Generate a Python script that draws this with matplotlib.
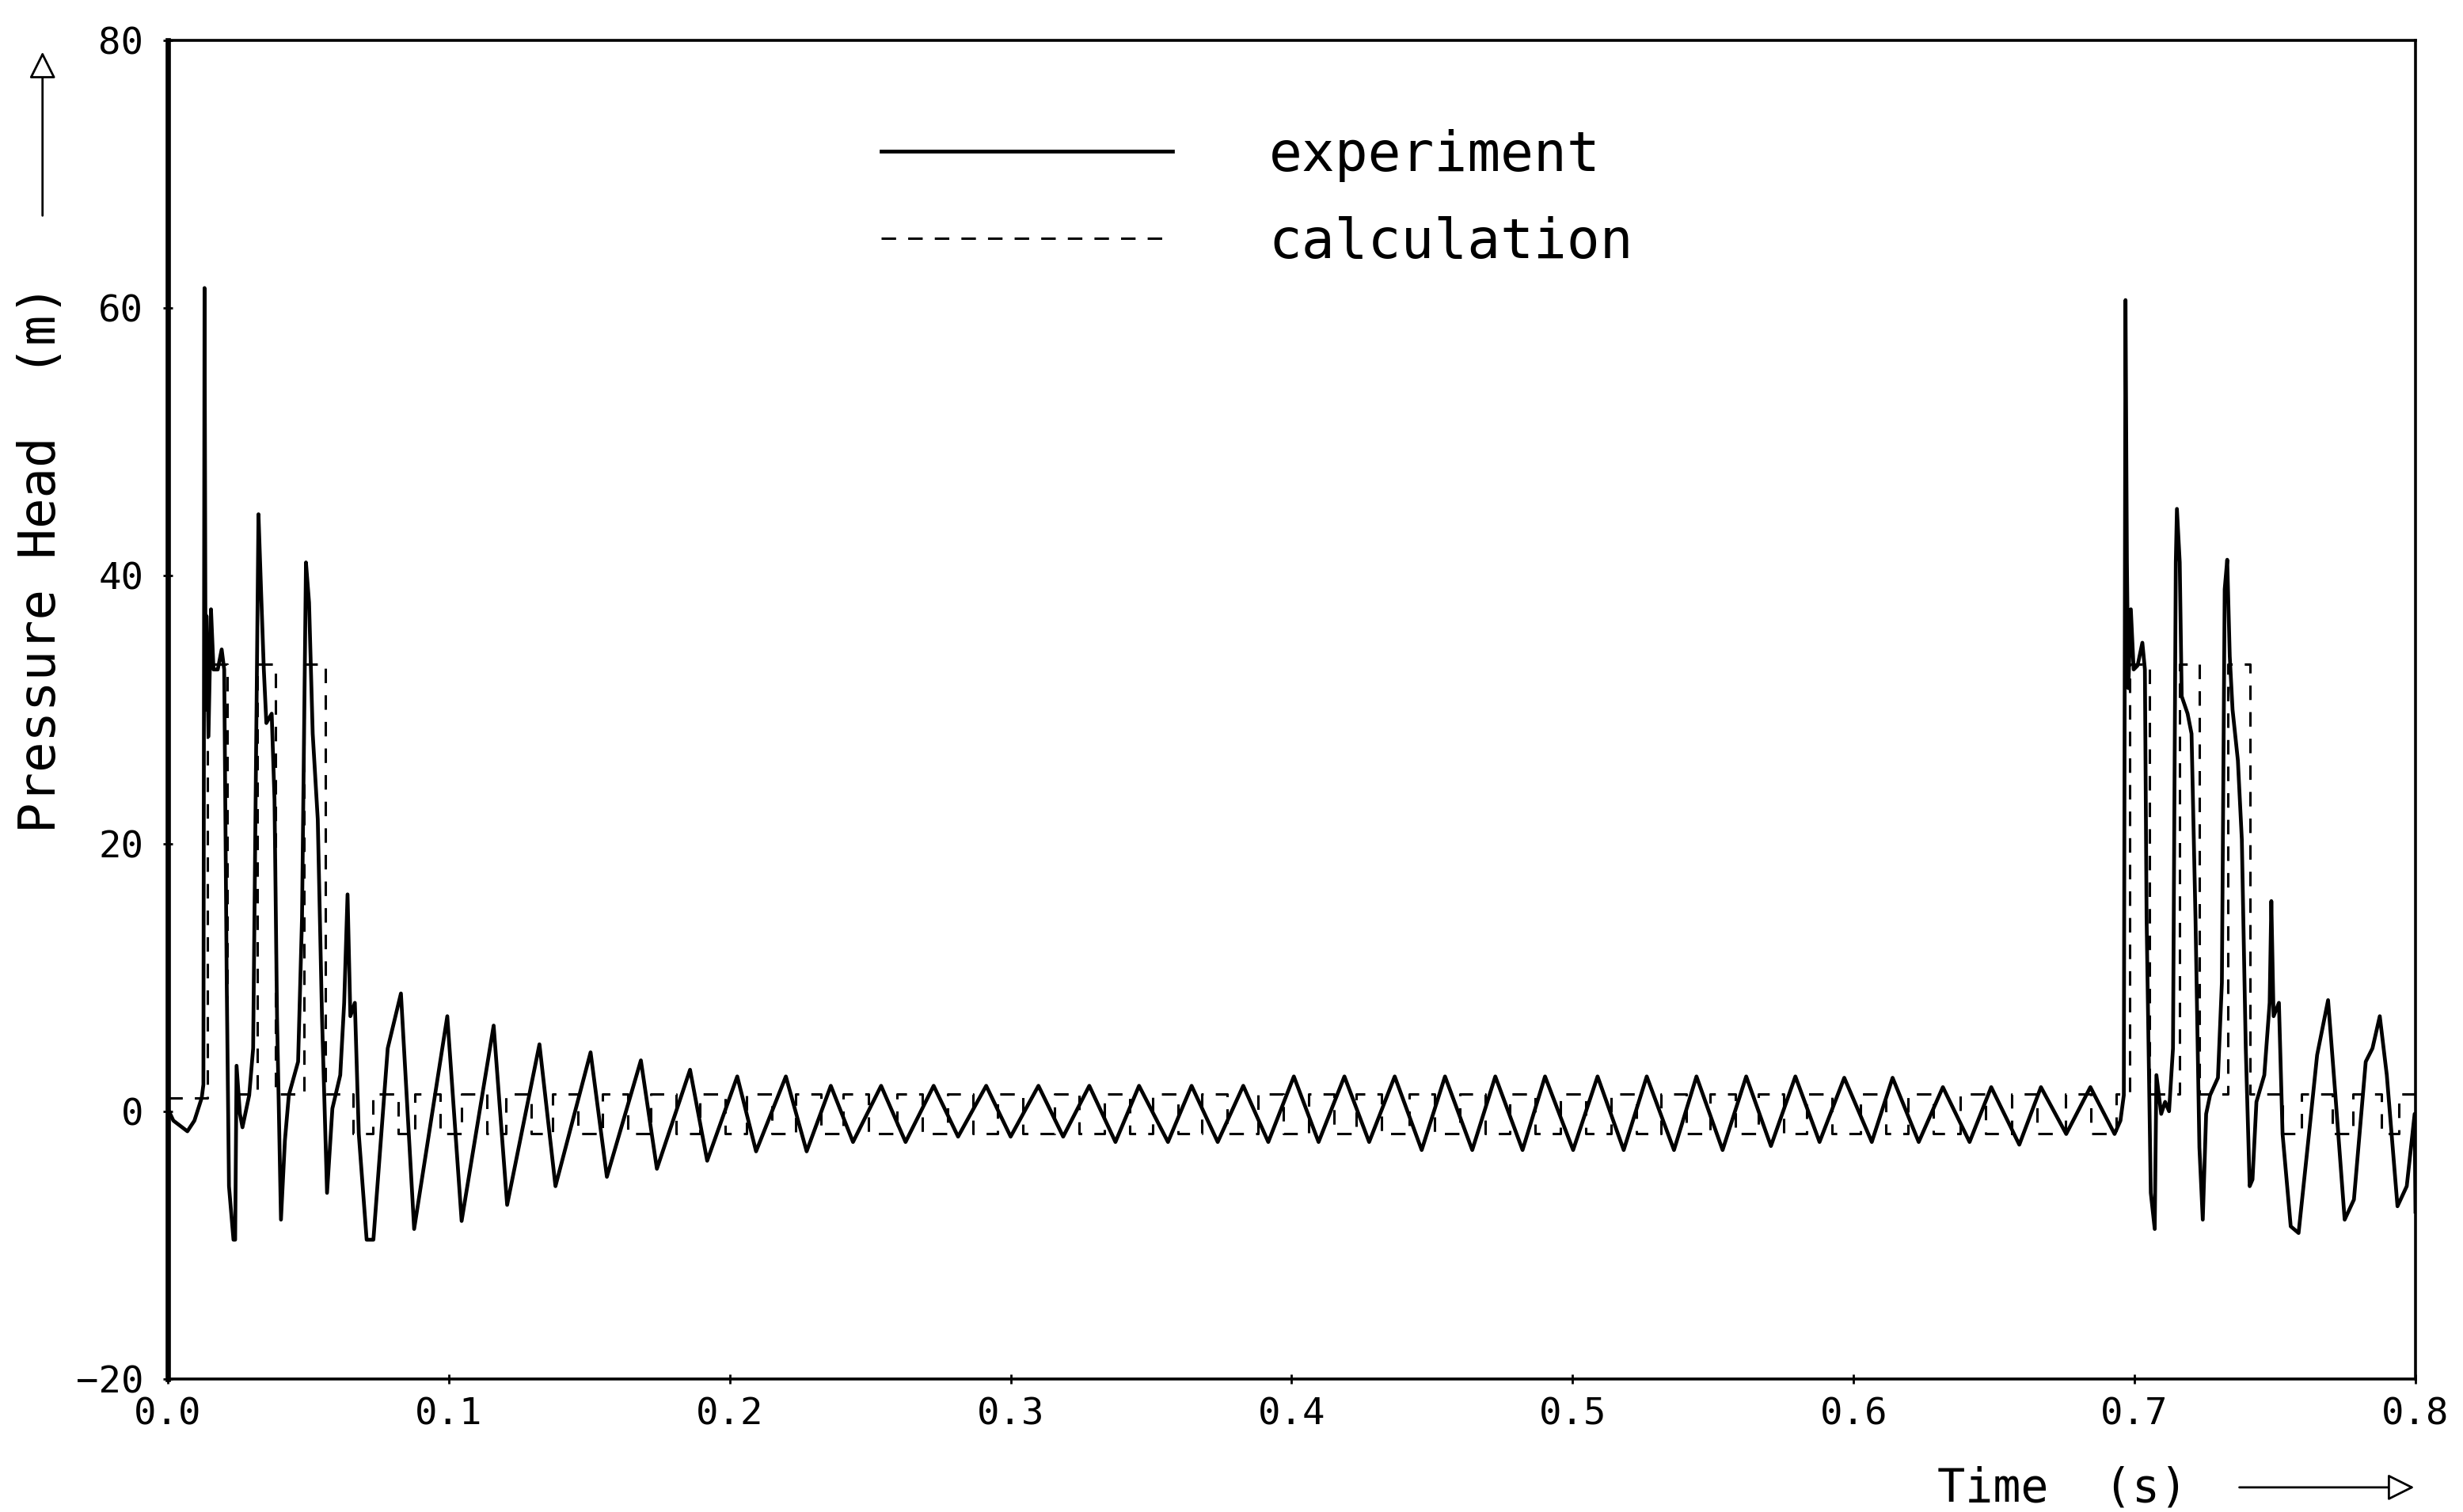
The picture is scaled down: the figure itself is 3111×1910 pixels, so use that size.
import matplotlib
matplotlib.use("Agg")
import matplotlib.pyplot as plt

plt.rcParams['font.family'] = ['DejaVu Sans Mono']

exp_t = [0.0000, 0.0020, 0.0070, 0.0095, 0.0121, 0.0127, 0.0131, 0.0135, 0.0138, 0.0145,
         0.0154, 0.0163, 0.0178, 0.0192, 0.0201, 0.0210, 0.0218, 0.0234, 0.0240, 0.0245,
         0.0257, 0.0266, 0.0290, 0.0304, 0.0316, 0.0323, 0.0332, 0.0342, 0.0351, 0.0370,
         0.0380, 0.0389, 0.0403, 0.0417, 0.0431, 0.0464, 0.0478, 0.0492, 0.0503, 0.0516,
         0.0534, 0.0549, 0.0567, 0.0586, 0.0614, 0.0628, 0.0640, 0.0650, 0.0666, 0.0680,
         0.0708, 0.0732, 0.0783,
         0.0830, 0.0877, 0.0995, 0.1046, 0.1160, 0.1208, 0.1323, 0.1380, 0.1505, 0.1563,
         0.1684, 0.1741, 0.1859, 0.1920, 0.2027, 0.2094, 0.2200, 0.2274, 0.2360, 0.2439,
         0.2539, 0.2626, 0.2726, 0.2813, 0.2913, 0.3000, 0.3099, 0.3187, 0.3280, 0.3373,
         0.3457, 0.3560, 0.3644, 0.3737, 0.3828, 0.3917, 0.4008, 0.4096, 0.4188, 0.4276,
         0.4367, 0.4463, 0.4546, 0.4643, 0.4725, 0.4822, 0.4902, 0.5002, 0.5089, 0.5182,
         0.5264, 0.5361, 0.5441, 0.5534, 0.5618, 0.5706, 0.5793, 0.5879, 0.5967, 0.6065,
         0.6139, 0.6232, 0.6318, 0.6413, 0.6490, 0.6590, 0.6667, 0.6757, 0.6843, 0.6929,
         0.6950, 0.6962,
         0.6968, 0.6973, 0.6978, 0.6987, 0.6997, 0.7011, 0.7028, 0.7037, 0.7043, 0.7058,
         0.7072, 0.7078, 0.7095, 0.7109, 0.7123, 0.7137, 0.7147, 0.7151, 0.7161, 0.7168,
         0.7189, 0.7203, 0.7217, 0.7231, 0.7243, 0.7255, 0.7269, 0.7297, 0.7311, 0.7321,
         0.7330, 0.7339, 0.7349, 0.7368, 0.7382, 0.7396, 0.7410, 0.7420, 0.7434, 0.7462,
         0.7481, 0.7487, 0.7495, 0.7514, 0.7527, 0.7556, 0.7584, 0.7621, 0.7650, 0.7689,
         0.7715, 0.7748, 0.7781, 0.7823, 0.7847, 0.7873, 0.7898, 0.7936, 0.7969, 0.7997,
         0.8000]
exp_h = [0.2, -0.7, -1.5, -0.7, 1.0, 2.0, 61.5, 30.0, 37.0, 28.0,
         37.5, 33.0, 33.0, 34.5, 33.0, 9.6, -5.6, -9.6, -9.6, 3.4,
         -0.2, -1.2, 1.2, 4.7, 30.0, 44.6, 39.0, 33.0, 29.0, 29.7,
         23.3, 7.1, -8.1, -2.2, 1.2, 3.7, 14.5, 41.0, 38.0, 28.2,
         21.8, 7.1, -6.1, 0.2, 2.7, 8.1, 16.2, 7.1, 8.1, -1.7,
         -9.6, -9.6, 4.7,
         8.8, -8.8, 7.1, -8.2, 6.4, -7.0, 5.0, -5.6, 4.4, -4.9,
         3.8, -4.3, 3.1, -3.7, 2.6, -3.0, 2.6, -3.0, 1.9, -2.3,
         1.9, -2.3, 1.9, -1.9, 1.9, -1.9, 1.9, -1.9, 1.9, -2.3,
         1.9, -2.3, 1.9, -2.3, 1.9, -2.3, 2.6, -2.3, 2.6, -2.3,
         2.6, -2.9, 2.6, -2.9, 2.6, -2.9, 2.6, -2.9, 2.6, -2.9,
         2.6, -2.9, 2.6, -2.9, 2.6, -2.6, 2.6, -2.3, 2.5, -2.3,
         2.5, -2.3, 1.8, -2.3, 1.8, -2.5, 1.8, -1.7, 1.8, -1.7,
         -0.7, 1.2,
         60.6, 41.0, 31.6, 37.5, 33.0, 33.3, 35.0, 33.0, 14.5, -6.1,
         -8.8, 2.7, -0.2, 0.7, 0.0, 4.7, 41.0, 45.0, 41.0, 31.0,
         29.7, 28.2, 14.5, -2.7, -8.1, -0.2, 1.2, 2.5, 9.6, 39.0,
         41.2, 34.0, 30.0, 26.2, 20.3, 4.7, -5.6, -5.1, 0.7, 2.7,
         8.1, 15.7, 7.1, 8.1, -1.7, -8.6, -9.1, -1.7, 4.2, 8.3,
         1.2, -8.1, -6.6, 3.7, 4.7, 7.1, 2.7, -7.1, -5.6, -0.2,
         -7.5]

# calculated pressure head: step levels, each held until the next time
calc_t = [0.0000, 0.0140, 0.0212, 0.0318, 0.0385, 0.0485, 0.0560, 0.0660,
          0.0729, 0.0819, 0.0880, 0.0970, 0.1045, 0.1135, 0.1203, 0.1293, 0.1370, 0.1460,
          0.1548, 0.1638, 0.1720, 0.1810, 0.1893, 0.1983, 0.2061, 0.2151, 0.2235, 0.2325,
          0.2405, 0.2495, 0.2595, 0.2685, 0.2777, 0.2867, 0.2953, 0.3043, 0.3155, 0.3245,
          0.3333, 0.3423, 0.3507, 0.3597, 0.3681, 0.3771, 0.3880, 0.3970, 0.4060, 0.4150,
          0.4231, 0.4321, 0.4418, 0.4508, 0.4598, 0.4688, 0.4777, 0.4867, 0.4957, 0.5047,
          0.5137, 0.5227, 0.5316, 0.5406, 0.5489, 0.5579, 0.5661, 0.5751, 0.5834, 0.5924,
          0.6025, 0.6115, 0.6195, 0.6285, 0.6380, 0.6470, 0.6562, 0.6652, 0.6755, 0.6845,
          0.6935, 0.6982, 0.7053, 0.7161, 0.7231, 0.7332, 0.7410, 0.7527, 0.7594, 0.7705,
          0.7778, 0.7878, 0.7942, 0.8000]
calc_h = [1.0, 33.4, 1.3, 33.4, 1.3, 33.4, 1.3, -1.7,
          1.3, -1.7, 1.3, -1.7, 1.3, -1.7, 1.3, -1.7, 1.3, -1.7,
          1.3, -1.7, 1.3, -1.7, 1.3, -1.7, 1.3, -1.7, 1.3, -1.7,
          1.3, -1.7, 1.3, -1.7, 1.3, -1.7, 1.3, -1.7, 1.3, -1.7,
          1.3, -1.7, 1.3, -1.7, 1.3, -1.7, 1.3, -1.7, 1.3, -1.7,
          1.3, -1.7, 1.3, -1.7, 1.3, -1.7, 1.3, -1.7, 1.3, -1.7,
          1.3, -1.7, 1.3, -1.7, 1.3, -1.7, 1.3, -1.7, 1.3, -1.7,
          1.3, -1.7, 1.3, -1.7, 1.3, -1.7, 1.3, -1.7, 1.3, -1.7,
          1.3, 33.4, 1.3, 33.4, 1.3, 33.4, 1.3, -1.7, 1.3, -1.7,
          1.3, -1.7, 1.3, 1.3]

x_ticks = [0.0, 0.1, 0.2, 0.3, 0.4, 0.5, 0.6, 0.7, 0.8]
x_ticklabels = ["0.0", "0.1", "0.2", "0.3", "0.4", "0.5", "0.6", "0.7", "0.8"]
y_ticks = [-20, 0, 20, 40, 60, 80]

fig = plt.figure(figsize=(15.555, 9.55), dpi=200)
ax = fig.add_axes([0.0681, 0.0880, 0.9126, 0.8853])

ax.plot(exp_t, exp_h, '-', color='black', lw=1.7, label="experiment")
ax.plot(calc_t, calc_h, color='black', lw=1.1, ls=(0, (6, 5)),
        drawstyle='steps-post', label="calculation")

ax.set_xlim(0, 0.8)
ax.set_ylim(-20, 80)
ax.set_xticks(x_ticks)
ax.set_xticklabels(x_ticklabels)
ax.set_yticks(y_ticks)
ax.tick_params(direction='inout', length=4, width=1.0, labelsize=17)
ax.tick_params(axis='x', pad=6)
ax.tick_params(axis='y', pad=9)
for side in ['top', 'right', 'bottom']:
    ax.spines[side].set_linewidth(1.3)
ax.spines['left'].set_linewidth(2.4)

ax.set_ylabel("Pressure Head  (m)", fontsize=23, va='center')
ax.yaxis.set_label_coords(-0.0564, 0.6127)
ax.set_xlabel("Time  (s)", fontsize=21, ha='center', va='center')
ax.xaxis.set_label_coords(0.843, -0.0816)

# hand-drawn style arrows next to the axis titles
ax.annotate("", xy=(-0.0557, 0.9947), xytext=(-0.0557, 0.8658),
            xycoords='axes fraction', textcoords='axes fraction',
            arrowprops=dict(arrowstyle='-|>', color='black', lw=1.0,
                            fc='white', mutation_scale=26), annotation_clip=False)
ax.annotate("", xy=(1.0014, -0.0810), xytext=(0.9197, -0.0810),
            xycoords='axes fraction', textcoords='axes fraction',
            arrowprops=dict(arrowstyle='-|>', color='black', lw=1.0,
                            fc='white', mutation_scale=26), annotation_clip=False)

leg = ax.legend(loc='upper left', bbox_to_anchor=(0.3174, 0.934), frameon=False,
                fontsize=25, handlelength=5.3, handletextpad=1.75,
                labelspacing=0.62, borderpad=0, borderaxespad=0)

fig.savefig("out.png", dpi=200)
